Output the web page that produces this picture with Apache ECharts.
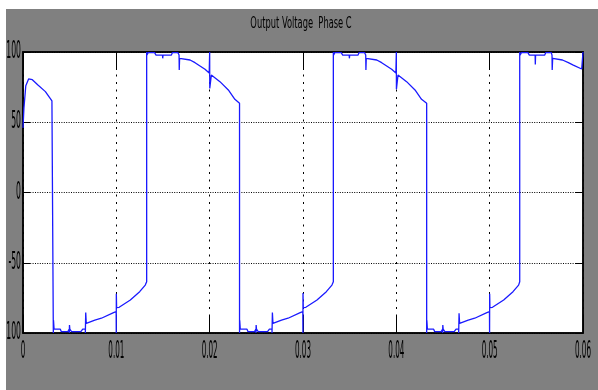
<!DOCTYPE html>
<html>
<head>
<meta charset="utf-8">
<script src="https://cdn.jsdelivr.net/npm/echarts@6/dist/echarts.min.js"></script>
<style>
html,body{margin:0;padding:0;background:#fff;width:598px;height:390px;overflow:hidden;}
#c{position:absolute;left:6px;top:9px;width:592px;height:381px;}
</style>
</head>
<body>
<div id="c"></div>
<script>
const titleText = 'Output Voltage  Phase C';
const xTickValues = [0, 0.01, 0.02, 0.03, 0.04, 0.05, 0.06];
const xTickLabels = ['0','0.01','0.02','0.03','0.04','0.05','0.06'];
const yTickValues = [-100, -50, 0, 50, 100];
const yTickLabels = ['-100','-50','0','50','100'];

// time (s)
const timeS = [
  0, 0.0001, 0.0003, 0.0006, 0.001, 0.0016, 0.0024, 0.0031, 0.00325,
  0.00325, 0.00327, 0.00333, 0.0040, 0.0041, 0.0048, 0.00495, 0.00496, 0.00498, 0.00502, 0.0052, 0.0062, 0.0064, 0.00668, 0.00668, 0.00672, 0.00678, 0.0077, 0.0084, 0.0097, 0.00998, 0.00999, 0.01, 0.01003, 0.0103, 0.0115, 0.0125, 0.0131, 0.01325,
  0.01325, 0.01329, 0.0134, 0.0141, 0.01425, 0.01495, 0.01497, 0.015, 0.0159, 0.016, 0.0166, 0.01672, 0.01674, 0.01678, 0.0179, 0.01843, 0.0195, 0.01995, 0.02, 0.02001, 0.02018, 0.0211, 0.022, 0.0227, 0.0232,
  0.0232, 0.02322, 0.02328, 0.024, 0.0241, 0.0248, 0.02495, 0.02496, 0.02498, 0.02502, 0.0252, 0.0262, 0.0264, 0.02668, 0.02668, 0.02672, 0.02678, 0.0277, 0.0284, 0.0297, 0.02998, 0.02999, 0.03, 0.03003, 0.0303, 0.0315, 0.0325, 0.0331, 0.03325,
  0.03325, 0.03329, 0.0334, 0.0341, 0.03425, 0.03495, 0.03497, 0.035, 0.0359, 0.036, 0.0366, 0.03672, 0.03674, 0.03678, 0.0379, 0.03843, 0.0395, 0.03995, 0.04, 0.04001, 0.04018, 0.0411, 0.042, 0.0427, 0.04325,
  0.04325, 0.04327, 0.04333, 0.044, 0.0441, 0.0448, 0.04495, 0.04496, 0.04498, 0.04502, 0.0452, 0.0462, 0.0464, 0.04668, 0.04668, 0.04672, 0.04678, 0.0477, 0.0484, 0.0497, 0.04998, 0.04999, 0.05, 0.05003, 0.0503, 0.0515, 0.0525, 0.0531, 0.05322,
  0.05322, 0.05326, 0.0534, 0.0541, 0.05425, 0.05487, 0.05489, 0.05492, 0.0559, 0.056, 0.0566, 0.05668, 0.0567, 0.05675, 0.0578, 0.05843, 0.05896, 0.05986, 0.05998, 0.06
];
// output voltage phase C (V)
const voltC = [
  46, 60, 76, 80.8, 80.3, 76.5, 71.8, 65.2, 64.2,
  -100, -91, -97.3, -97.3, -99, -99, -97.3, -100, -94.3, -97.3, -99, -99, -97.3, -97.3, -100, -85.5, -93.1, -90.8, -89.5, -85.5, -84.8, -100, -72, -82, -81.7, -76.5, -70.6, -65.9, -63.5,
  100, 97.8, 99.5, 99.5, 97.8, 97.8, 95.5, 97.8, 97.8, 99.5, 99.5, 97.8, 87.2, 95.5, 94.3, 92.4, 87.7, 85, 100, 74, 83.6, 78.9, 73, 66.3, 63.5,
  -100, -91, -97.3, -97.3, -99, -99, -97.3, -100, -94.3, -97.3, -99, -99, -97.3, -97.3, -100, -85.5, -93.1, -90.8, -89.5, -85.5, -84.8, -100, -71.5, -82, -81.7, -76.5, -70.6, -65.9, -63.5,
  100, 97.8, 99.5, 99.5, 97.8, 97.8, 95.5, 97.8, 97.8, 99.5, 99.5, 97.8, 87.2, 95.5, 94.3, 92.4, 87.7, 85, 100, 73.5, 83.6, 78.9, 73, 66.3, 63.5,
  -100, -91, -97.3, -97.3, -99, -99, -97.3, -100, -94.3, -97.3, -99, -99, -97.3, -97.3, -100, -86, -93.1, -90.8, -89.5, -85.5, -84.8, -100, -72, -82, -81.7, -76.5, -70.6, -65.9, -63.5,
  100, 97.8, 99.5, 99.5, 97.8, 97.8, 91.2, 97.8, 97.8, 99.5, 99.5, 97.8, 87.2, 95.5, 94.3, 92.4, 90.7, 87.9, 87.5, 100
];

const seriesData = timeS.map((t, i) => [t, voltC[i]]);
const FONT = "'DejaVu Sans', sans-serif";

const chart = echarts.init(document.getElementById('c'), null, {renderer: 'canvas'});

const tickAxisCommon = {
  axisLine: {show: true, onZero: false, lineStyle: {color: '#000', width: 1.5}},
  axisLabel: {show: false}
};

chart.setOption({
  animation: false,
  backgroundColor: '#808080',
  grid: {
    left: 17, top: 43, right: 15, bottom: 57, outerBoundsMode: 'none', containLabel: false,
    show: true, backgroundColor: '#fff', borderColor: '#000', borderWidth: 1.5
  },
  xAxis: [Object.assign({
    type: 'value', min: 0, max: 0.06, interval: 0.01, position: 'bottom',
    axisTick: {show: true, inside: true, length: 18, lineStyle: {color: '#000', width: 1}},
    splitLine: {show: true, lineStyle: {color: '#000', width: 1, type: [2, 5.5]}}
  }, tickAxisCommon), Object.assign({
    type: 'value', min: 0, max: 0.06, interval: 0.01, position: 'top',
    axisTick: {show: true, inside: true, length: 18, lineStyle: {color: '#000', width: 1}},
    splitLine: {show: false}
  }, tickAxisCommon)],
  yAxis: [Object.assign({
    type: 'value', min: -100, max: 100, interval: 50, position: 'left',
    axisTick: {show: true, inside: true, length: 7, lineStyle: {color: '#000', width: 1}},
    splitLine: {show: true, lineStyle: {color: '#000', width: 1, type: [1, 1.4]}}
  }, tickAxisCommon), Object.assign({
    type: 'value', min: -100, max: 100, interval: 50, position: 'right',
    axisTick: {show: true, inside: true, length: 7, lineStyle: {color: '#000', width: 1}},
    splitLine: {show: false}
  }, tickAxisCommon)],
  series: [{
    name: 'Phase C', type: 'line', xAxisIndex: 0, yAxisIndex: 0,
    data: seriesData, showSymbol: false, symbol: 'none', clip: true,
    lineStyle: {color: '#1a1aff', width: 1.3}, z: 5
  }]
});

// Tall, condensed MATLAB-scope style text: positioned through the axes' own scales.
const gridRect = chart.getModel().getComponent('grid', 0).coordinateSystem.getRect();
const texts = [];
texts.push({
  type: 'text', x: chart.getWidth() / 2 - 1, y: 15, scaleX: 0.52, scaleY: 1, z: 100,
  style: {text: titleText, font: '16px ' + FONT, fill: '#000', align: 'center', verticalAlign: 'middle', textAlign: 'center', textVerticalAlign: 'middle'}
});
xTickValues.forEach((v, i) => {
  const px = chart.convertToPixel({xAxisIndex: 0}, v);
  texts.push({
    type: 'text', x: px, y: gridRect.y + gridRect.height + 19, scaleX: 0.3, scaleY: 1, z: 100,
    style: {text: xTickLabels[i], font: '24px ' + FONT, fill: '#000', align: 'center', verticalAlign: 'middle', textAlign: 'center', textVerticalAlign: 'middle'}
  });
});
yTickValues.forEach((v, i) => {
  const py = chart.convertToPixel({yAxisIndex: 0}, v);
  texts.push({
    type: 'text', x: gridRect.x - 2, y: py, scaleX: 0.32, scaleY: 1, z: 100,
    style: {text: yTickLabels[i], font: '24px ' + FONT, fill: '#000', align: 'right', verticalAlign: 'middle', textAlign: 'right', textVerticalAlign: 'middle'}
  });
});
chart.setOption({graphic: texts});
</script>
</body>
</html>
